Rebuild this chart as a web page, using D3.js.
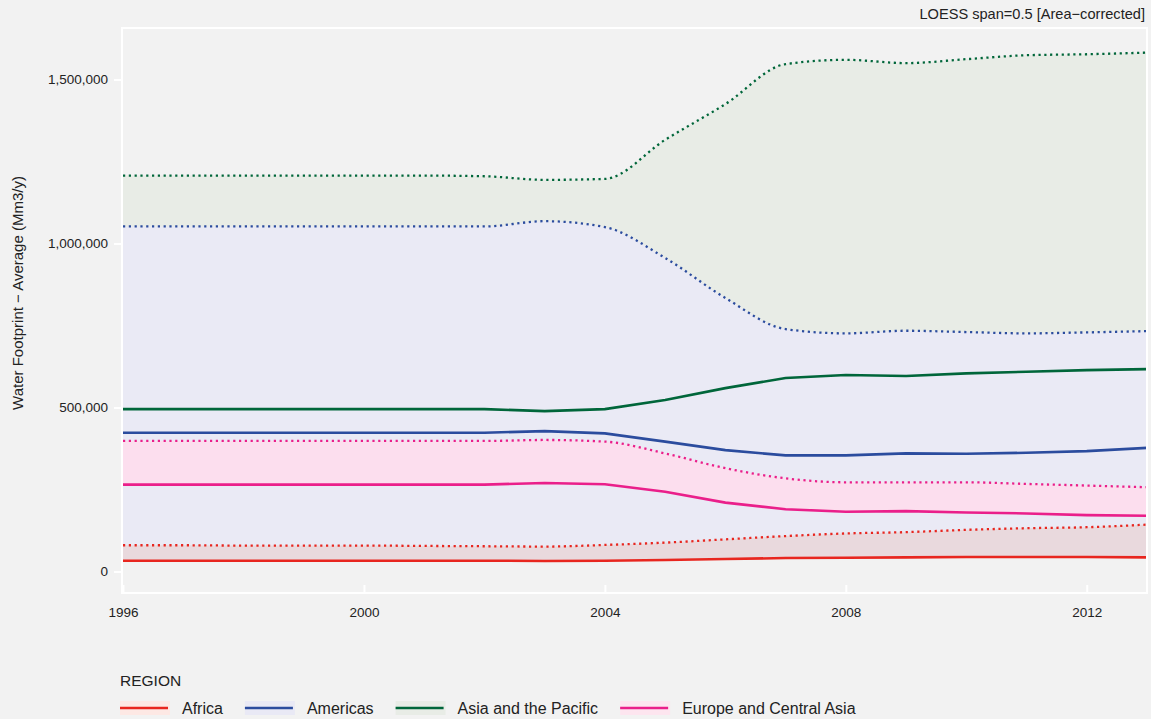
<!DOCTYPE html>
<html><head><meta charset="utf-8">
<script src="https://cdn.jsdelivr.net/npm/d3@7"></script>
<style>
html,body{margin:0;padding:0;background:#f2f2f2;}
text{font-family:"Liberation Sans",Arial,sans-serif;}
</style></head>
<body>
<svg id="chart" width="1151" height="719"></svg>
<script>
const years = [1996,1997,1998,1999,2000,2001,2002,2003,2004,2005,2006,2007,2008,2009,2010,2011,2012,2013];
const regions = ["Africa","Americas","Asia and the Pacific","Europe and Central Asia"];
// solid lines (average)
const africaLine   = [33000,33000,33000,33000,33000,33000,33000,32000,33000,35000,38000,41000,42000,43000,44000,44000,44000,43000];
const americasLine = [423000,423000,423000,423000,423000,423000,423000,428000,421000,396000,370000,354000,354000,360000,359000,362000,367000,377000];
const asiaLine     = [495000,495000,495000,495000,495000,495000,495000,489000,495000,523000,559000,590000,599000,596000,604000,609000,614000,617000];
const europeLine   = [265000,265000,265000,265000,265000,265000,265000,270000,266000,243000,210000,190000,182000,184000,180000,177000,172000,170000];
// dotted lines (area upper bound)
const africaUpper   = [80000,80000,79000,79000,79000,78000,77000,76000,81000,88000,98000,108000,116000,120000,127000,132000,135000,143000];
const americasUpper = [1052000,1052000,1052000,1052000,1052000,1052000,1052000,1068000,1050000,956000,834000,739000,726000,734000,730000,726000,729000,733000];
const asiaUpper     = [1207000,1207000,1207000,1207000,1207000,1207000,1205000,1194000,1197000,1316000,1425000,1547000,1560000,1550000,1562000,1574000,1577000,1582000];
const europeUpper   = [398000,398000,398000,398000,398000,398000,398000,401000,396000,360000,315000,284000,272000,272000,272000,267000,262000,257000];
const yTicks = [0,500000,1000000,1500000];
const xTicks = [1996,2000,2004,2008,2012];

const lineColors = {"Africa":"#e8261f","Americas":"#2b4c9e","Asia and the Pacific":"#00663a","Europe and Central Asia":"#ea1f8a"};
const fillColors = {"Africa":"#e9d9dd","Americas":"#eaeaf5","Asia and the Pacific":"#e8ece6","Europe and Central Asia":"#fcdeee"};
const keyFills   = {"Africa":"#fde8e4","Americas":"#e9e9f5","Asia and the Pacific":"#e8ece6","Europe and Central Asia":"#fde5ef"};

const svg = d3.select("#chart");
svg.append("rect").attr("width",1151).attr("height",719).attr("fill","#f2f2f2");

const x = d3.scaleLinear().domain([1996,2013]).range([123,1147]);
const y = d3.scaleLinear().domain([0,1500000]).range([571.5,79.5]);

const series = [
  {name:"Asia and the Pacific", line:asiaLine, upper:asiaUpper, lower:africaLine},
  {name:"Americas", line:americasLine, upper:americasUpper, lower:africaLine},
  {name:"Europe and Central Asia", line:europeLine, upper:europeUpper, lower:europeLine},
  {name:"Africa", line:africaLine, upper:africaUpper, lower:africaLine}
];

const g = svg.append("g");
const area = d3.area().x((d,i)=>x(years[i])).y0(d=>y(d[0])).y1(d=>y(d[1])).curve(d3.curveMonotoneX);
series.forEach(s=>{
  g.append("path").datum(s.upper.map((u,i)=>[s.lower[i],u]))
   .attr("d",area).attr("fill",fillColors[s.name]);
});
const lineDot = d3.line().x((d,i)=>x(years[i])).y(d=>y(d)).curve(d3.curveMonotoneX);
const lineSolid = d3.line().x((d,i)=>x(years[i])).y(d=>y(d));
series.forEach(s=>{
  g.append("path").datum(s.upper).attr("d",lineDot).attr("fill","none")
   .attr("stroke",lineColors[s.name]).attr("stroke-width",2.3).attr("stroke-dasharray","2.2,3.6");
});
series.forEach(s=>{
  g.append("path").datum(s.line).attr("d",lineSolid).attr("fill","none")
   .attr("stroke",lineColors[s.name]).attr("stroke-width",2.6);
});

// panel border (white)
svg.append("rect").attr("x",122).attr("y",28).attr("width",1025).attr("height",565)
  .attr("fill","none").attr("stroke","#ffffff").attr("stroke-width",2);

// y axis
const yAxis = svg.append("g").attr("transform","translate(122,0)")
  .call(d3.axisLeft(y).tickValues(yTicks).tickFormat(d3.format(",")).tickSize(8).tickPadding(6));
yAxis.select(".domain").remove();
yAxis.selectAll(".tick line").attr("stroke","#ffffff").attr("stroke-width",2);
yAxis.selectAll(".tick text").attr("fill","#222").style("font-size","13.5px").style("font-family","Liberation Sans, Arial, sans-serif");

// x axis
const xAxis = svg.append("g").attr("transform","translate(0,593)")
  .call(d3.axisBottom(x).tickValues(xTicks).tickFormat(d3.format("d")).tickSize(-8).tickPadding(14));
xAxis.select(".domain").remove();
xAxis.selectAll(".tick line").attr("stroke","#ffffff").attr("stroke-width",2);
xAxis.selectAll(".tick text").attr("fill","#222").style("font-size","13.5px").style("font-family","Liberation Sans, Arial, sans-serif");

// titles
svg.append("text").attr("x",1145).attr("y",19).attr("text-anchor","end")
  .attr("fill","#222").style("font-size","14.6px").text("LOESS span=0.5 [Area\u2212corrected]");
svg.append("text").attr("transform","translate(23,293) rotate(-90)").attr("text-anchor","middle")
  .attr("fill","#222").style("font-size","15px").text("Water Footprint \u2212 Average (Mm3/y)");

// legend
svg.append("text").attr("x",120).attr("y",686).attr("fill","#222").style("font-size","15.5px").text("REGION");
let lx = 120;
regions.forEach(r=>{
  const lg = svg.append("g");
  lg.append("rect").attr("x",lx).attr("y",701).attr("width",50).attr("height",14).attr("fill",keyFills[r]);
  lg.append("line").attr("x1",lx).attr("x2",lx+48).attr("y1",708).attr("y2",708)
    .attr("stroke",lineColors[r]).attr("stroke-width",2.6);
  const t = lg.append("text").attr("x",lx+62).attr("y",713.5).attr("fill","#222").style("font-size","16px").text(r);
  lx = lx + 62 + t.node().getComputedTextLength() + 22;
});
</script>
</body></html>
